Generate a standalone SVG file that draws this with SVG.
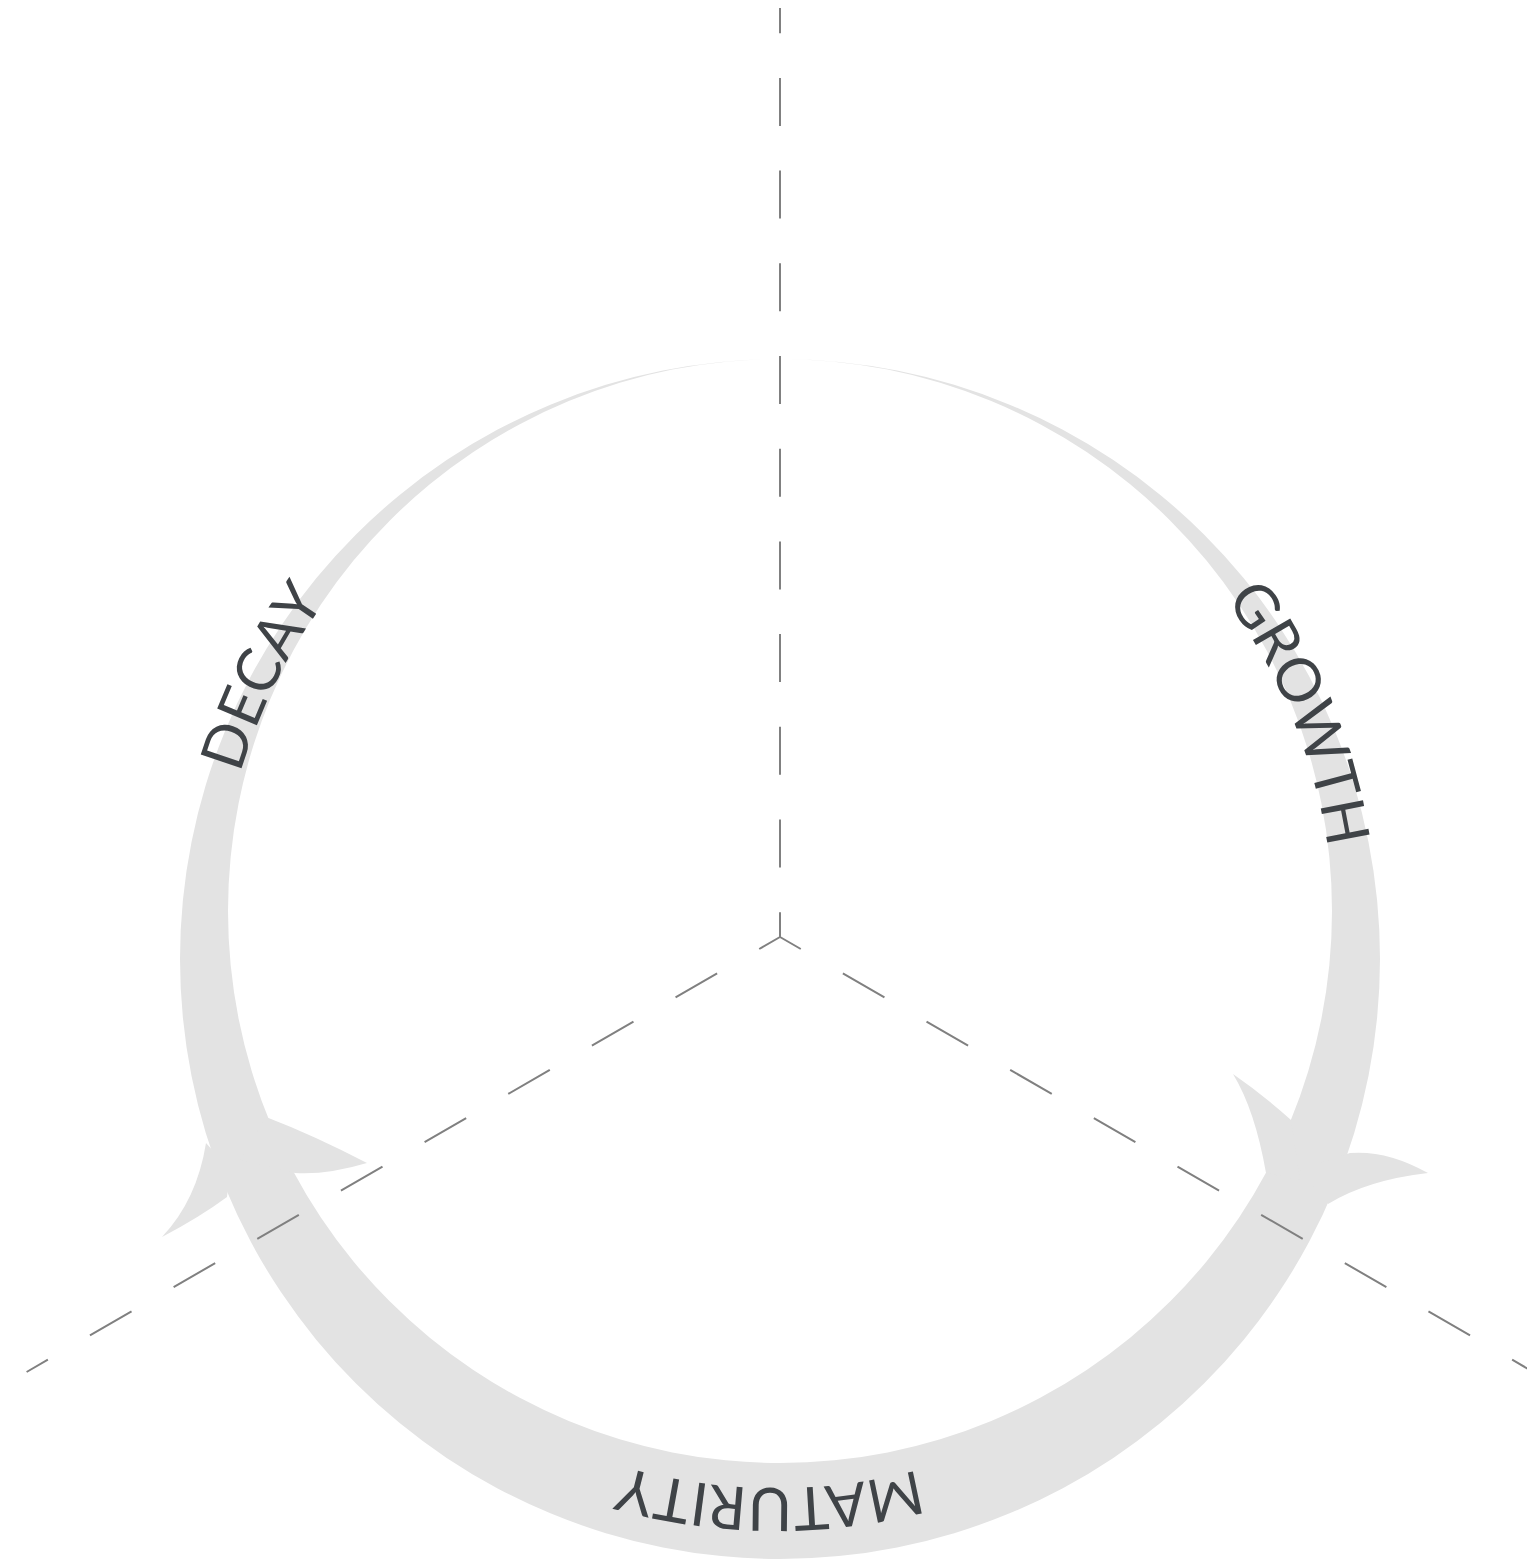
<svg xmlns="http://www.w3.org/2000/svg" width="1527" height="1567" viewBox="0 0 1527 1567">
<style>
.band{fill:#e3e3e3;}
.axis{stroke:#808080;stroke-width:2;fill:none;}
.lbl{font-family:Lato,"Open Sans","Liberation Sans",sans-serif;font-size:60px;fill:#3f4347;}
</style>
<defs>
<path id="arcGrowth" d="M 1034.5 435.5 A 558 558 0 0 1 1307.9 1098.7"/>
<path id="arcDecay" d="M 234.1 1063.1 A 558 558 0 0 1 550.8 419.4"/>
<path id="arcMaturity" d="M 1130.2 1361.2 A 558 558 0 0 1 412.9 1353.7"/>
</defs>
<rect width="1527" height="1567" fill="#ffffff"/>
<g id="cycle-band">
<path class="band" fill-rule="evenodd" d="M 180 959 A 600 600 0 1 0 1380 959 A 600 600 0 1 0 180 959 Z M 228 911 A 552 552 0 1 0 1332 911 A 552 552 0 1 0 228 911 Z"/>
</g>
<g id="arrowhead-right">
<path class="band" d="M 1291 1120 Q 1262 1094 1233 1074 Q 1255 1110 1266 1173 L 1300 1180 Z"/>
<path class="band" d="M 1350 1153 Q 1387 1150 1428 1173 Q 1367 1180 1328 1204 L 1300 1170 Z"/>
</g>
<g id="arrowhead-left">
<path class="band" d="M 266 1117 Q 313 1135 367 1163 Q 327 1175 295 1173 L 240 1160 Z"/>
<path class="band" d="M 206 1143 Q 197 1200 162 1237 Q 200 1217 227 1197 L 230 1170 Z"/>
</g>
<g id="connectors">
<line class="axis" x1="780" y1="937" x2="780" y2="8" stroke-dasharray="48 44.7" stroke-dashoffset="23.2"/>
<line class="axis" x1="780" y1="937" x2="26.6" y2="1372" stroke-dasharray="48 48.6" stroke-dashoffset="24"/>
<line class="axis" x1="780" y1="937" x2="1533.4" y2="1372" stroke-dasharray="48 48.6" stroke-dashoffset="24"/>
</g>
<g id="label-growth">
<text class="lbl"><textPath href="#arcGrowth" startOffset="50%" text-anchor="middle">GROWTH</textPath></text>
</g>
<g id="label-decay">
<text class="lbl"><textPath href="#arcDecay" startOffset="50%" text-anchor="middle">DECAY</textPath></text>
</g>
<g id="label-maturity">
<text class="lbl"><textPath href="#arcMaturity" startOffset="50%" text-anchor="middle">MATURITY</textPath></text>
</g>
</svg>
